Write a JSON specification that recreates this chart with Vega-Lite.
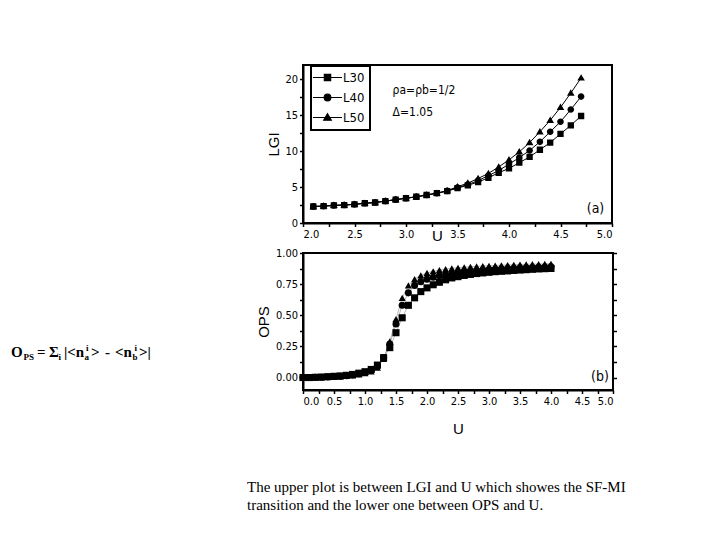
{
  "$schema": "https://vega.github.io/schema/vega-lite/v6.json",
  "padding": {"left": 11, "top": 64, "right": 0, "bottom": 0},
  "columns": 2,
  "bounds": "flush",
  "spacing": 30,
  "resolve": {"scale": {"shape": "independent"}, "legend": {"shape": "independent"}},
  "config": {
    "font": "Liberation Sans",
    "view": {"stroke": "black", "strokeWidth": 2},
    "axis": {
      "grid": false, "domainColor": "black", "domainWidth": 2,
      "tickColor": "black", "tickWidth": 1.5, "tickSize": 3.5, "labelColor": "black", "titleColor": "black",
      "labelFont": "DejaVu Sans Condensed, Liberation Sans", "labelFontSize": 11, "labelPadding": 2,
      "titleFont": "Liberation Sans", "titleFontSize": 15, "titleFontWeight": "normal"
    }
  },
  "datasets": {
    "up": [
      {"s":"L50","U":2.1,"v":2.3},{"s":"L50","U":2.2,"v":2.35},{"s":"L50","U":2.3,"v":2.45},{"s":"L50","U":2.4,"v":2.5},{"s":"L50","U":2.5,"v":2.6},{"s":"L50","U":2.6,"v":2.75},{"s":"L50","U":2.7,"v":2.85},{"s":"L50","U":2.8,"v":3.05},{"s":"L50","U":2.9,"v":3.25},{"s":"L50","U":3.0,"v":3.45},{"s":"L50","U":3.1,"v":3.65},{"s":"L50","U":3.2,"v":3.9},{"s":"L50","U":3.3,"v":4.15},{"s":"L50","U":3.4,"v":4.5},
      {"s":"L50","U":3.5,"v":5.05},{"s":"L50","U":3.6,"v":5.55},{"s":"L50","U":3.7,"v":6.2},{"s":"L50","U":3.8,"v":6.9},{"s":"L50","U":3.9,"v":7.8},{"s":"L50","U":4.0,"v":8.8},{"s":"L50","U":4.1,"v":9.9},{"s":"L50","U":4.2,"v":11.2},{"s":"L50","U":4.3,"v":12.7},{"s":"L50","U":4.4,"v":14.3},{"s":"L50","U":4.5,"v":16.1},{"s":"L50","U":4.6,"v":18.1},{"s":"L50","U":4.7,"v":20.2},
      {"s":"L40","U":2.1,"v":2.3},{"s":"L40","U":2.2,"v":2.35},{"s":"L40","U":2.3,"v":2.45},{"s":"L40","U":2.4,"v":2.5},{"s":"L40","U":2.5,"v":2.6},{"s":"L40","U":2.6,"v":2.75},{"s":"L40","U":2.7,"v":2.85},{"s":"L40","U":2.8,"v":3.05},{"s":"L40","U":2.9,"v":3.25},{"s":"L40","U":3.0,"v":3.45},{"s":"L40","U":3.1,"v":3.65},{"s":"L40","U":3.2,"v":3.9},{"s":"L40","U":3.3,"v":4.15},{"s":"L40","U":3.4,"v":4.47},
      {"s":"L40","U":3.5,"v":4.95},{"s":"L40","U":3.6,"v":5.35},{"s":"L40","U":3.7,"v":5.9},{"s":"L40","U":3.8,"v":6.6},{"s":"L40","U":3.9,"v":7.3},{"s":"L40","U":4.0,"v":8.2},{"s":"L40","U":4.1,"v":9.1},{"s":"L40","U":4.2,"v":10.1},{"s":"L40","U":4.3,"v":11.3},{"s":"L40","U":4.4,"v":12.7},{"s":"L40","U":4.5,"v":14.1},{"s":"L40","U":4.6,"v":15.8},{"s":"L40","U":4.7,"v":17.6},
      {"s":"L30","U":2.1,"v":2.3},{"s":"L30","U":2.2,"v":2.35},{"s":"L30","U":2.3,"v":2.45},{"s":"L30","U":2.4,"v":2.5},{"s":"L30","U":2.5,"v":2.6},{"s":"L30","U":2.6,"v":2.75},{"s":"L30","U":2.7,"v":2.85},{"s":"L30","U":2.8,"v":3.05},{"s":"L30","U":2.9,"v":3.25},{"s":"L30","U":3.0,"v":3.45},{"s":"L30","U":3.1,"v":3.65},{"s":"L30","U":3.2,"v":3.9},{"s":"L30","U":3.3,"v":4.15},{"s":"L30","U":3.4,"v":4.45},
      {"s":"L30","U":3.5,"v":4.85},{"s":"L30","U":3.6,"v":5.25},{"s":"L30","U":3.7,"v":5.7},{"s":"L30","U":3.8,"v":6.3},{"s":"L30","U":3.9,"v":7.0},{"s":"L30","U":4.0,"v":7.6},{"s":"L30","U":4.1,"v":8.4},{"s":"L30","U":4.2,"v":9.2},{"s":"L30","U":4.3,"v":10.2},{"s":"L30","U":4.4,"v":11.2},{"s":"L30","U":4.5,"v":12.4},{"s":"L30","U":4.6,"v":13.6},{"s":"L30","U":4.7,"v":14.9}
    ],
    "low": [
      {"s":"L50","U":0.0,"v":0.0},{"s":"L50","U":0.1,"v":0.0},{"s":"L50","U":0.2,"v":0.001},{"s":"L50","U":0.3,"v":0.002},{"s":"L50","U":0.4,"v":0.004},{"s":"L50","U":0.5,"v":0.006},{"s":"L50","U":0.6,"v":0.009},{"s":"L50","U":0.7,"v":0.012},{"s":"L50","U":0.8,"v":0.017},{"s":"L50","U":0.9,"v":0.025},{"s":"L50","U":1.0,"v":0.034},{"s":"L50","U":1.1,"v":0.05},{"s":"L50","U":1.2,"v":0.08},{"s":"L50","U":1.3,"v":0.15},{"s":"L50","U":1.4,"v":0.29},{"s":"L50","U":1.5,"v":0.47},{"s":"L50","U":1.6,"v":0.64},{"s":"L50","U":1.7,"v":0.74},{"s":"L50","U":1.8,"v":0.79},{"s":"L50","U":1.9,"v":0.82},{"s":"L50","U":2.0,"v":0.84},{"s":"L50","U":2.1,"v":0.853},{"s":"L50","U":2.2,"v":0.863},{"s":"L50","U":2.3,"v":0.871},{"s":"L50","U":2.4,"v":0.877},{"s":"L50","U":2.5,"v":0.882},{"s":"L50","U":2.6,"v":0.886},{"s":"L50","U":2.7,"v":0.89},{"s":"L50","U":2.8,"v":0.893},{"s":"L50","U":2.9,"v":0.896},{"s":"L50","U":3.0,"v":0.898},{"s":"L50","U":3.1,"v":0.9},{"s":"L50","U":3.2,"v":0.902},{"s":"L50","U":3.3,"v":0.904},{"s":"L50","U":3.4,"v":0.906},{"s":"L50","U":3.5,"v":0.908},{"s":"L50","U":3.6,"v":0.909},{"s":"L50","U":3.7,"v":0.911},{"s":"L50","U":3.8,"v":0.912},{"s":"L50","U":3.9,"v":0.913},{"s":"L50","U":4.0,"v":0.914},
      {"s":"L40","U":0.0,"v":0.0},{"s":"L40","U":0.1,"v":0.0},{"s":"L40","U":0.2,"v":0.002},{"s":"L40","U":0.3,"v":0.003},{"s":"L40","U":0.4,"v":0.005},{"s":"L40","U":0.5,"v":0.008},{"s":"L40","U":0.6,"v":0.011},{"s":"L40","U":0.7,"v":0.015},{"s":"L40","U":0.8,"v":0.021},{"s":"L40","U":0.9,"v":0.03},{"s":"L40","U":1.0,"v":0.04},{"s":"L40","U":1.1,"v":0.057},{"s":"L40","U":1.2,"v":0.09},{"s":"L40","U":1.3,"v":0.16},{"s":"L40","U":1.4,"v":0.27},{"s":"L40","U":1.5,"v":0.43},{"s":"L40","U":1.6,"v":0.58},{"s":"L40","U":1.7,"v":0.68},{"s":"L40","U":1.8,"v":0.74},{"s":"L40","U":1.9,"v":0.77},{"s":"L40","U":2.0,"v":0.79},{"s":"L40","U":2.1,"v":0.805},{"s":"L40","U":2.2,"v":0.818},{"s":"L40","U":2.3,"v":0.828},{"s":"L40","U":2.4,"v":0.836},{"s":"L40","U":2.5,"v":0.843},{"s":"L40","U":2.6,"v":0.849},{"s":"L40","U":2.7,"v":0.854},{"s":"L40","U":2.8,"v":0.858},{"s":"L40","U":2.9,"v":0.862},{"s":"L40","U":3.0,"v":0.866},{"s":"L40","U":3.1,"v":0.869},{"s":"L40","U":3.2,"v":0.872},{"s":"L40","U":3.3,"v":0.875},{"s":"L40","U":3.4,"v":0.877},{"s":"L40","U":3.5,"v":0.88},{"s":"L40","U":3.6,"v":0.882},{"s":"L40","U":3.7,"v":0.884},{"s":"L40","U":3.8,"v":0.886},{"s":"L40","U":3.9,"v":0.888},{"s":"L40","U":4.0,"v":0.89},
      {"s":"L30","U":0.0,"v":0.0},{"s":"L30","U":0.1,"v":0.0},{"s":"L30","U":0.2,"v":0.002},{"s":"L30","U":0.3,"v":0.004},{"s":"L30","U":0.4,"v":0.007},{"s":"L30","U":0.5,"v":0.01},{"s":"L30","U":0.6,"v":0.013},{"s":"L30","U":0.7,"v":0.018},{"s":"L30","U":0.8,"v":0.025},{"s":"L30","U":0.9,"v":0.035},{"s":"L30","U":1.0,"v":0.047},{"s":"L30","U":1.1,"v":0.065},{"s":"L30","U":1.2,"v":0.1},{"s":"L30","U":1.3,"v":0.16},{"s":"L30","U":1.4,"v":0.24},{"s":"L30","U":1.5,"v":0.36},{"s":"L30","U":1.6,"v":0.48},{"s":"L30","U":1.7,"v":0.58},{"s":"L30","U":1.8,"v":0.64},{"s":"L30","U":1.9,"v":0.69},{"s":"L30","U":2.0,"v":0.72},{"s":"L30","U":2.1,"v":0.745},{"s":"L30","U":2.2,"v":0.765},{"s":"L30","U":2.3,"v":0.785},{"s":"L30","U":2.4,"v":0.8},{"s":"L30","U":2.5,"v":0.81},{"s":"L30","U":2.6,"v":0.82},{"s":"L30","U":2.7,"v":0.828},{"s":"L30","U":2.8,"v":0.835},{"s":"L30","U":2.9,"v":0.84},{"s":"L30","U":3.0,"v":0.845},{"s":"L30","U":3.1,"v":0.85},{"s":"L30","U":3.2,"v":0.853},{"s":"L30","U":3.3,"v":0.856},{"s":"L30","U":3.4,"v":0.86},{"s":"L30","U":3.5,"v":0.863},{"s":"L30","U":3.6,"v":0.866},{"s":"L30","U":3.7,"v":0.869},{"s":"L30","U":3.8,"v":0.872},{"s":"L30","U":3.9,"v":0.874},{"s":"L30","U":4.0,"v":0.876}
    ]
  },
  "concat": [
    {
      "width": 262, "height": 158,
      "view": {"stroke": null},
      "data": {"values": [{"t": " "}]},
      "mark": {"type": "text"},
      "encoding": {"text": {"field": "t"}}
    },
    {
      "width": 309, "height": 158,
      "data": {"name": "up"},
      "encoding": {
        "x": {"field": "U", "type": "quantitative",
          "scale": {"domain": [2, 5], "nice": false, "zero": false},
          "axis": {"values": [2,2.25,2.5,2.75,3,3.25,3.5,3.75,4,4.25,4.5,4.75,5],
            "labelExpr": "(datum.value*2)%1==0 ? format(datum.value,'.1f') : ''",
            "title": "U", "titleX": 134, "titleY": 5}},
        "y": {"field": "v", "type": "quantitative",
          "scale": {"domain": [0, 22], "nice": false, "zero": false},
          "axis": {"values": [0,2.5,5,7.5,10,12.5,15,17.5,20],
            "labelExpr": "datum.value%5==0 ? format(datum.value,'d') : ''",
            "title": "LGI", "titlePadding": 3}}
      },
      "layer": [
        {"mark": {"type": "line", "color": "black", "strokeWidth": 1},
         "encoding": {"detail": {"field": "s"}}},
        {"mark": {"type": "point", "filled": true, "color": "black", "opacity": 1, "size": 40},
         "encoding": {"shape": {"field": "s", "type": "nominal",
           "scale": {"domain": ["L30", "L40", "L50"],
             "range": ["M-4.6,0H4.6M-1,-1H1V1H-1Z", "M-4.6,0H4.6M1.05,0A1.05,1.05,0,1,1,-1.05,0A1.05,1.05,0,1,1,1.05,0Z", "M-4.6,0H4.6M0,-1.2L1.2,0.85H-1.2Z"]},
           "legend": {"title": null, "orient": "none", "legendX": 8, "legendY": 1,
             "strokeColor": "black", "fillColor": "white", "padding": 5,
             "labelFont": "DejaVu Sans Condensed, Liberation Sans", "labelFontSize": 13, "labelColor": "black",
             "symbolSize": 40, "rowPadding": 6, "symbolOffset": 5, "labelOffset": 9,
             "symbolFillColor": "black", "symbolStrokeColor": "black", "symbolStrokeWidth": 1.2,
             "encoding": {
               "symbols": {"stroke": {"value": "black"}, "strokeWidth": {"value": 1.2}},
               "legend": {"strokeWidth": {"value": 2}}
             }}}}},
        {"data": {"values": [{"U": 2.87, "v": 17.9, "t": "ρa=ρb=1/2"}, {"U": 2.87, "v": 14.9, "t": "Δ=1.05"}]},
         "mark": {"type": "text", "align": "left", "baseline": "alphabetic", "font": "DejaVu Sans Condensed, Liberation Sans", "fontSize": 12, "color": "black"},
         "encoding": {"text": {"field": "t"}}},
        {"data": {"values": [{"U": 4.84, "v": 1.4, "t": "(a)"}]},
         "mark": {"type": "text", "align": "center", "baseline": "alphabetic", "font": "DejaVu Sans Condensed, Liberation Sans", "fontSize": 14, "color": "black"},
         "encoding": {"text": {"field": "t"}}}
      ]
    },
    {
      "width": 262, "height": 137,
      "view": {"stroke": null},
      "data": {"values": [{}]},
      "layer": [
        {"mark": {"type": "text", "text": "O", "dx": -131, "dy": 35, "align": "left", "baseline": "alphabetic", "font": "Liberation Serif", "fontSize": 15, "fontWeight": "bold", "color": "black"}, "encoding": {}},
        {"mark": {"type": "text", "text": "PS", "dx": -118.5, "dy": 38, "align": "left", "baseline": "alphabetic", "font": "Liberation Serif", "fontSize": 9, "fontWeight": "bold", "color": "black"}, "encoding": {}},
        {"mark": {"type": "text", "text": "=", "dx": -105, "dy": 35, "align": "left", "baseline": "alphabetic", "font": "Liberation Serif", "fontSize": 15, "fontWeight": "bold", "color": "black"}, "encoding": {}},
        {"mark": {"type": "text", "text": "Σ", "dx": -93, "dy": 35, "align": "left", "baseline": "alphabetic", "font": "Liberation Serif", "fontSize": 15, "fontWeight": "bold", "color": "black"}, "encoding": {}},
        {"mark": {"type": "text", "text": "i", "dx": -83.5, "dy": 38, "align": "left", "baseline": "alphabetic", "font": "Liberation Serif", "fontSize": 9, "fontWeight": "bold", "color": "black"}, "encoding": {}},
        {"mark": {"type": "text", "text": "|<n", "dx": -78, "dy": 35, "align": "left", "baseline": "alphabetic", "font": "Liberation Serif", "fontSize": 15, "fontWeight": "bold", "color": "black"}, "encoding": {}},
        {"mark": {"type": "text", "text": "a", "dx": -57.5, "dy": 38, "align": "left", "baseline": "alphabetic", "font": "Liberation Serif", "fontSize": 9, "fontWeight": "bold", "color": "black"}, "encoding": {}},
        {"mark": {"type": "text", "text": "i", "dx": -56, "dy": 29, "align": "left", "baseline": "alphabetic", "font": "Liberation Serif", "fontSize": 9, "fontWeight": "bold", "color": "black"}, "encoding": {}},
        {"mark": {"type": "text", "text": ">", "dx": -51, "dy": 35, "align": "left", "baseline": "alphabetic", "font": "Liberation Serif", "fontSize": 15, "fontWeight": "bold", "color": "black"}, "encoding": {}},
        {"mark": {"type": "text", "text": "-", "dx": -37, "dy": 35, "align": "left", "baseline": "alphabetic", "font": "Liberation Serif", "fontSize": 15, "fontWeight": "bold", "color": "black"}, "encoding": {}},
        {"mark": {"type": "text", "text": "<n", "dx": -27, "dy": 35, "align": "left", "baseline": "alphabetic", "font": "Liberation Serif", "fontSize": 15, "fontWeight": "bold", "color": "black"}, "encoding": {}},
        {"mark": {"type": "text", "text": "b", "dx": -9.5, "dy": 38, "align": "left", "baseline": "alphabetic", "font": "Liberation Serif", "fontSize": 9, "fontWeight": "bold", "color": "black"}, "encoding": {}},
        {"mark": {"type": "text", "text": "i", "dx": -7.5, "dy": 29, "align": "left", "baseline": "alphabetic", "font": "Liberation Serif", "fontSize": 9, "fontWeight": "bold", "color": "black"}, "encoding": {}},
        {"mark": {"type": "text", "text": ">|", "dx": -3, "dy": 35, "align": "left", "baseline": "alphabetic", "font": "Liberation Serif", "fontSize": 15, "fontWeight": "bold", "color": "black"}, "encoding": {}}
      ]
    },
    {
      "width": 310, "height": 137,
      "data": {"name": "low"},
      "title": {"text": ["The upper plot is between LGI and U which showes the SF-MI", "transition and the lower one between  OPS  and U."],
        "orient": "bottom", "anchor": "start", "frame": "group", "dx": -56, "offset": 43, "baseline": "top",
        "font": "Liberation Serif", "fontSize": 15, "fontWeight": "normal", "color": "black", "lineHeight": 18},
      "encoding": {
        "x": {"field": "U", "type": "quantitative",
          "scale": {"domain": [0, 5], "nice": false, "zero": false},
          "axis": {"values": [0,0.25,0.5,0.75,1,1.25,1.5,1.75,2,2.25,2.5,2.75,3,3.25,3.5,3.75,4,4.25,4.5,4.75,5],
            "labelExpr": "(datum.value*2)%1==0 ? format(datum.value,'.1f') : ''",
            "title": "U", "titlePadding": 15}}
      },
      "layer": [
        {"mark": {"type": "line", "color": "#9a9a9a", "strokeWidth": 0.7},
         "encoding": {
           "y": {"field": "v", "type": "quantitative",
             "scale": {"domain": [-0.1, 1], "nice": false, "zero": false},
             "axis": {"orient": "right", "values": [0,0.125,0.25,0.375,0.5,0.625,0.75,0.875,1],
               "labels": false, "domain": false, "title": null}},
           "detail": {"field": "s"}}},
        {"mark": {"type": "point", "filled": true, "color": "black", "opacity": 1, "size": 50},
         "encoding": {
           "y": {"field": "v", "type": "quantitative",
             "scale": {"domain": [-0.1, 1], "nice": false, "zero": false},
             "axis": {"values": [0,0.125,0.25,0.375,0.5,0.625,0.75,0.875,1],
               "labelExpr": "(datum.value*4)%1==0 ? format(datum.value,'.2f') : ''",
               "title": "OPS", "titlePadding": 4}},
           "shape": {"field": "s", "type": "nominal",
             "scale": {"domain": ["L30", "L40", "L50"], "range": ["square", "circle", "triangle-up"]},
             "legend": null}}},
        {"data": {"values": [{"U": 4.79, "v": -0.024, "t": "(b)"}]},
         "mark": {"type": "text", "align": "center", "baseline": "alphabetic", "font": "DejaVu Sans Condensed, Liberation Sans", "fontSize": 14, "color": "black"},
         "encoding": {
           "y": {"field": "v", "type": "quantitative", "scale": {"domain": [-0.1, 1], "nice": false, "zero": false}, "axis": null},
           "text": {"field": "t"}}}
      ],
      "resolve": {"axis": {"y": "independent"}}
    }
  ]
}
